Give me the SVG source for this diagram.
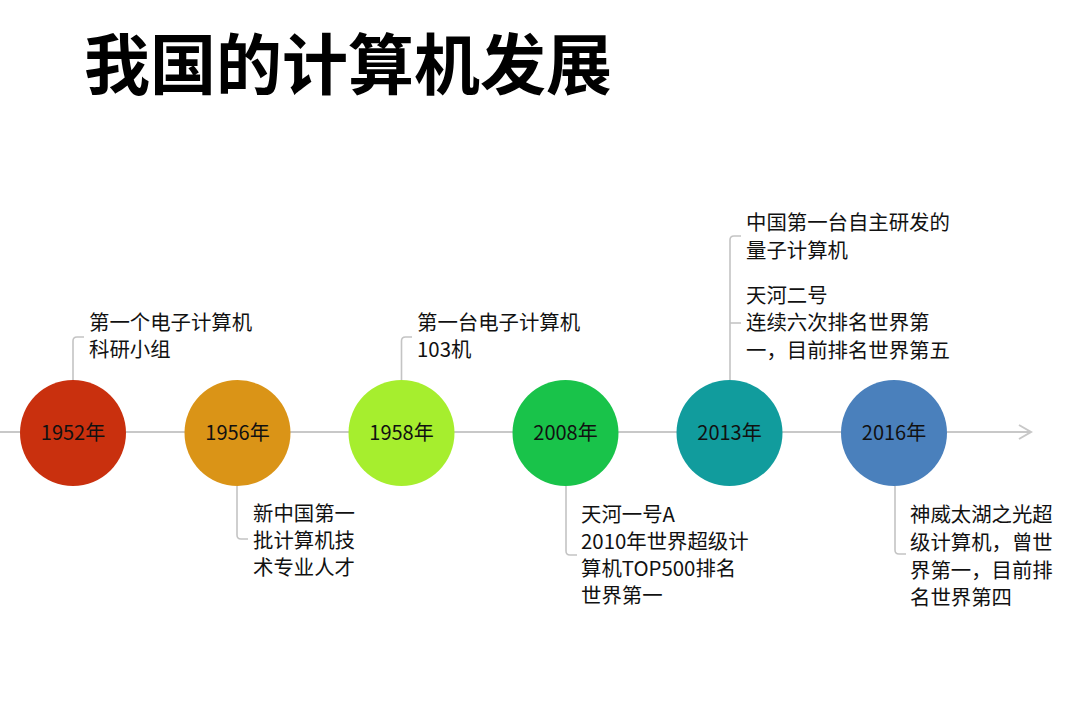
<svg xmlns="http://www.w3.org/2000/svg" width="1089" height="712" viewBox="0 0 1089 712">
<style>
  .title{font-family:"Noto Sans CJK SC","Liberation Sans",sans-serif;font-size:66px;font-weight:bold;fill:#000}
  .yr{font-family:"Noto Sans CJK SC","Liberation Sans",sans-serif;font-size:20px;fill:#111;text-anchor:middle}
  .lbl{font-family:"Noto Sans CJK SC","Liberation Sans",sans-serif;font-size:20.4px;fill:#111}
  .con{fill:none;stroke:#c4c4c4;stroke-width:1.6}
  .axis{fill:none;stroke:#c8c8c8;stroke-width:2}
</style>
<rect width="1089" height="712" fill="#fff"/>
<text class="title" x="84" y="89">我国的计算机发展</text>
<g id="connectors">
  <path class="axis" d="M0,432 H1031"/>
  <path class="axis" d="M1019,425 L1031,432 L1019,439"/>
  <path class="con" d="M73,380 V341 Q73,337 77,337 H84"/>
  <path class="con" d="M237,486 V535 Q237,539 241,539 H248"/>
  <path class="con" d="M401.5,380 V341 Q401.5,337 405.5,337 H412"/>
  <path class="con" d="M566,486 V551 Q566,555 570,555 H577"/>
  <path class="con" d="M730,380 V240 Q730,236 734,236 H741"/>
  <path class="con" d="M730,323 H741"/>
  <path class="con" d="M895,486 V550 Q895,554 899,554 H906"/>
</g>
<g id="n1952">
  <circle cx="73" cy="433" r="53" fill="#c9300e"/>
  <text class="yr" x="73" y="440">1952年</text>
  <text class="lbl"><tspan x="89" y="330">第一个电子计算机</tspan><tspan x="89" y="357">科研小组</tspan></text>
</g>
<g id="n1956">
  <circle cx="237.5" cy="433" r="53" fill="#da9417"/>
  <text class="yr" x="237.5" y="440">1956年</text>
  <text class="lbl"><tspan x="253" y="521">新中国第一</tspan><tspan x="253" y="548">批计算机技</tspan><tspan x="253" y="575">术专业人才</tspan></text>
</g>
<g id="n1958">
  <circle cx="401.5" cy="433" r="53" fill="#a6ee2e"/>
  <text class="yr" x="401.5" y="440">1958年</text>
  <text class="lbl"><tspan x="417" y="330">第一台电子计算机</tspan><tspan x="417" y="357">103机</tspan></text>
</g>
<g id="n2008">
  <circle cx="565.5" cy="433" r="53" fill="#19c34a"/>
  <text class="yr" x="565.5" y="440">2008年</text>
  <text class="lbl"><tspan x="581" y="522">天河一号A</tspan><tspan x="581" y="549">2010年世界超级计</tspan><tspan x="581" y="576">算机TOP500排名</tspan><tspan x="581" y="603">世界第一</tspan></text>
</g>
<g id="n2013">
  <circle cx="729.5" cy="433" r="53" fill="#119c9d"/>
  <text class="yr" x="729.5" y="440">2013年</text>
  <text class="lbl"><tspan x="746" y="230">中国第一台自主研发的</tspan><tspan x="746" y="258">量子计算机</tspan></text>
  <text class="lbl"><tspan x="746" y="303">天河二号</tspan><tspan x="746" y="330">连续六次排名世界第</tspan><tspan x="746" y="358">一，目前排名世界第五</tspan></text>
</g>
<g id="n2016">
  <circle cx="894" cy="433" r="53" fill="#4a80bc"/>
  <text class="yr" x="894" y="440">2016年</text>
  <text class="lbl"><tspan x="910" y="522">神威太湖之光超</tspan><tspan x="910" y="550">级计算机，曾世</tspan><tspan x="910" y="578">界第一，目前排</tspan><tspan x="910" y="605">名世界第四</tspan></text>
</g>
</svg>
